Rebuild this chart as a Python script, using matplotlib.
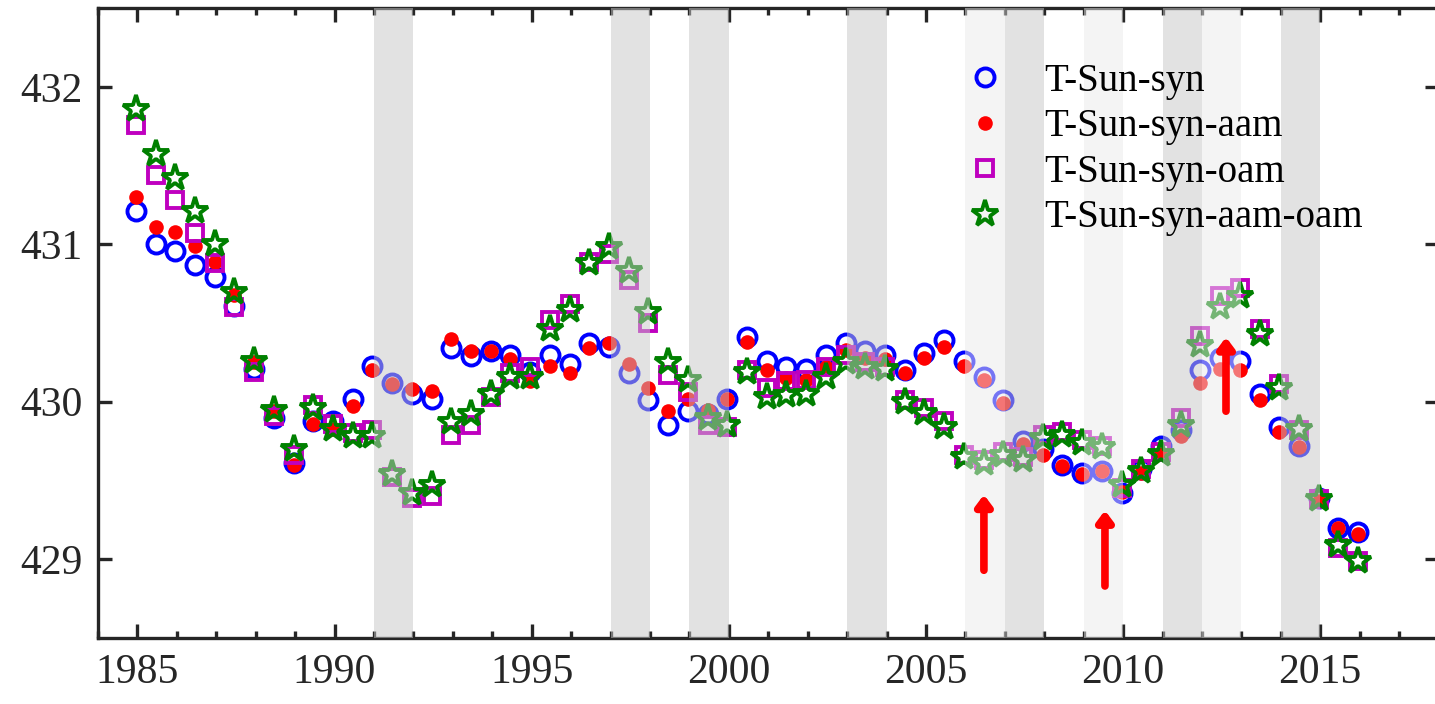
import numpy as np
import matplotlib
matplotlib.use("Agg")
import matplotlib.pyplot as plt
from matplotlib.patches import FancyArrowPatch

# half-year epochs
t = np.round(np.arange(63) * 0.5 + 1984.96, 2)

syn = [431.21, 431.00, 430.96, 430.87, 430.79, 430.61, 430.21, 429.90, 429.61, 429.88,
       429.88, 430.02, 430.23, 430.12, 430.05, 430.02, 430.34, 430.29, 430.32, 430.30,
       430.19, 430.30, 430.24, 430.37, 430.35, 430.18, 430.01, 429.85, 429.94, 429.92,
       430.02, 430.41, 430.26, 430.22, 430.21, 430.30, 430.37, 430.32, 430.30, 430.20,
       430.31, 430.39, 430.26, 430.16, 430.01, 429.75, 429.70, 429.60, 429.55, 429.56,
       429.42, 429.57, 429.72, 429.82, 430.20, 430.28, 430.26, 430.05, 429.84, 429.72,
       429.39, 429.20, 429.17]

syn_aam = [431.30, 431.11, 431.08, 430.99, 430.89, 430.68, 430.25, 429.94, 429.60, 429.86,
           429.83, 429.97, 430.20, 430.11, 430.08, 430.07, 430.40, 430.32, 430.32, 430.27,
           430.13, 430.23, 430.18, 430.34, 430.37, 430.24, 430.09, 429.94, 430.02, 429.95,
           430.02, 430.38, 430.20, 430.15, 430.14, 430.22, 430.33, 430.28, 430.27, 430.18,
           430.28, 430.35, 430.23, 430.14, 429.99, 429.73, 429.66, 429.59, 429.54, 429.56,
           429.43, 429.55, 429.67, 429.78, 430.12, 430.21, 430.20, 430.01, 429.81, 429.71,
           429.37, 429.20, 429.16]

syn_oam = [431.76, 431.44, 431.28, 431.07, 430.88, 430.60, 430.19, 429.91, 429.66, 429.98,
           429.86, 429.80, 429.82, 429.52, 429.39, 429.40, 429.79, 429.85, 430.03, 430.18,
           430.22, 430.52, 430.62, 430.89, 430.94, 430.77, 430.50, 430.17, 430.06, 429.85,
           429.84, 430.20, 430.09, 430.13, 430.14, 430.22, 430.30, 430.25, 430.22, 430.01,
           429.96, 429.88, 429.66, 429.63, 429.68, 429.65, 429.79, 429.81, 429.76, 429.72,
           429.45, 429.57, 429.68, 429.90, 430.42, 430.67, 430.72, 430.46, 430.11, 429.82,
           429.38, 429.07, 428.99]

syn_aam_oam = [431.86, 431.57, 431.42, 431.21, 431.00, 430.70, 430.26, 429.95, 429.70, 429.96,
               429.83, 429.78, 429.78, 429.54, 429.42, 429.47, 429.87, 429.92, 430.05, 430.16,
               430.16, 430.46, 430.58, 430.88, 430.98, 430.83, 430.57, 430.25, 430.14, 429.90,
               429.85, 430.19, 430.03, 430.04, 430.05, 430.16, 430.25, 430.22, 430.21, 430.00,
               429.93, 429.84, 429.65, 429.61, 429.66, 429.63, 429.77, 429.79, 429.74, 429.71,
               429.47, 429.56, 429.67, 429.85, 430.36, 430.60, 430.67, 430.43, 430.09, 429.83,
               429.38, 429.09, 428.99]

labels = ["T-Sun-syn", "T-Sun-syn-aam", "T-Sun-syn-oam", "T-Sun-syn-aam-oam"]

# shaded intervals (start, end)
dark_spans = [(1991, 1992), (1997, 1998), (1999, 2000), (2003, 2004),
              (2007, 2008), (2011, 2012), (2014, 2015)]
light_spans = [(2006, 2007), (2009, 2010), (2012, 2013)]

# red arrows: x, tail y, tip y
arrow_x = [2006.47, 2009.54, 2012.61]
arrow_tail = [428.93, 428.83, 429.94]
arrow_tip = [429.41, 429.31, 430.41]

xticks = [1985, 1990, 1995, 2000, 2005, 2010, 2015]
yticks = [429, 430, 431, 432]

plt.rcParams["font.family"] = ["Liberation Serif", "DejaVu Serif"]
plt.rcParams["font.size"] = 30

fig = plt.figure(figsize=(14.35, 7.04), dpi=100)
ax = fig.add_axes([98 / 1435, 66 / 704, (1438.5 - 98) / 1435, 630 / 704])

spine_c = (0.15, 0.15, 0.15)

h1, = ax.plot(t, syn, ls="none", marker="o", ms=13, mfc="none", mec=(0, 0, 1),
              mew=2.8, zorder=3, label=labels[0])
h2, = ax.plot(t, syn_aam, ls="none", marker="o", ms=10.5, mfc=(1, 0, 0), mec="none",
              zorder=3.1, label=labels[1])
h3, = ax.plot(t, syn_oam, ls="none", marker="s", ms=11.5, mfc="none", mec=(0.75, 0, 0.75),
              mew=2.8, zorder=3.2, label=labels[2])
h4, = ax.plot(t, syn_aam_oam, ls="none", marker="*", ms=20, mfc="none", mec=(0, 0.5, 0),
              mew=2.8, zorder=3.3, label=labels[3])

for a, b in dark_spans:
    ax.axvspan(a, b, color=(0.78, 0.78, 0.78), alpha=0.5, lw=0, zorder=4)
for a, b in light_spans:
    ax.axvspan(a, b, color=(0.92, 0.92, 0.92), alpha=0.5, lw=0, zorder=4)

for x, y0, y1 in zip(arrow_x, arrow_tail, arrow_tip):
    arr = FancyArrowPatch((x, y0), (x, y1), arrowstyle="-|>,head_length=0.6,head_width=0.45",
                          mutation_scale=10, color=(1, 0, 0), lw=5.5,
                          shrinkA=0, shrinkB=0, zorder=6)
    ax.add_patch(arr)

ax.set_xlim(1984, 2018)
ax.set_ylim(428.5, 432.5)
ax.set_xticks(xticks)
ax.set_xticks(np.arange(1984, 2019, 1), minor=True)
ax.set_yticks(yticks)
ax.tick_params(which="both", direction="in", top=True, right=True, color=spine_c,
               labelcolor=(0.15, 0.15, 0.15))
ax.tick_params(which="major", length=10, width=2.4, pad=11)
ax.tick_params(which="minor", length=5, width=2.4)
for s in ax.spines.values():
    s.set_linewidth(2.4)
    s.set_color(spine_c)

leg = ax.legend(handles=[h1, h2, h3, h4], loc="upper left",
                bbox_to_anchor=(0.633, 0.913), frameon=False, borderpad=0,
                borderaxespad=0, handlelength=2.0, handletextpad=0.5,
                labelspacing=0.22, fontsize=28)
leg.set_zorder(10)

fig.savefig("out.png", dpi=100)
